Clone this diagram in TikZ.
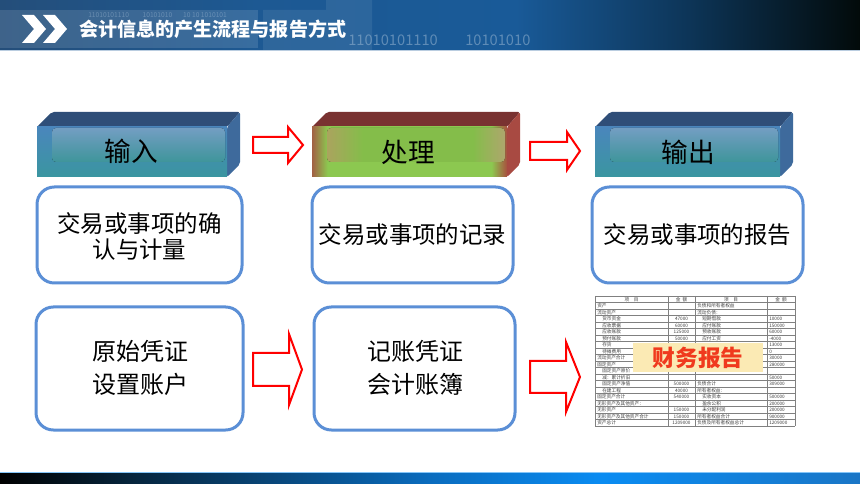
\documentclass[tikz,border=0pt]{standalone}
\usepackage{fontspec}
\setmainfont{Noto Sans CJK SC}
\usetikzlibrary{calc}
\definecolor{boxblue}{HTML}{5B8FD6}
\definecolor{hA}{HTML}{244E7A}
\definecolor{hB}{HTML}{1D5993}
\definecolor{hC}{HTML}{195A98}
\definecolor{hD}{HTML}{0D3558}
\definecolor{hE}{HTML}{020A0A}
\definecolor{fA}{HTML}{000000}
\definecolor{fB}{HTML}{06263F}
\definecolor{fC}{HTML}{0A6CBE}
\definecolor{fD}{HTML}{0A8CF2}
\definecolor{fE}{HTML}{1A76C6}
\definecolor{tgray}{HTML}{404040}
\definecolor{tgrid}{HTML}{808080}
\definecolor{finyellow}{HTML}{FBEAB4}
\definecolor{finred}{HTML}{F03A1E}
\definecolor{cubeTop}{HTML}{2F4E78}
\definecolor{cubeSide}{HTML}{3E6A9C}
\definecolor{redTop}{HTML}{793231}
\definecolor{redSide}{HTML}{A84A42}
\definecolor{frontTop}{HTML}{4A86BC}
\definecolor{frontBot}{HTML}{3A96A0}
\definecolor{innerTop}{HTML}{7FAED6}
\definecolor{innerBot}{HTML}{45A4AA}
\definecolor{gFrontL}{HTML}{A26044}
\definecolor{gFrontR}{HTML}{A8503F}
\definecolor{gFrontM}{HTML}{8CC850}
\definecolor{gInL}{HTML}{BCB468}
\definecolor{gInR}{HTML}{C0B878}
\definecolor{gInM}{HTML}{92D052}
\pgfdeclarehorizontalshading{hdrshade}{100bp}{color(0bp)=(hA); color(25bp)=(hA); color(40bp)=(hB); color(55bp)=(hC); color(65bp)=(hD); color(75bp)=(hE); color(100bp)=(hE)}
\pgfdeclarehorizontalshading{footshade}{100bp}{color(0bp)=(fA); color(25bp)=(fA); color(33bp)=(fB); color(50bp)=(fC); color(60bp)=(fD); color(75bp)=(fE); color(100bp)=(fE)}
\pgfdeclarehorizontalshading{greenfront}{100bp}{color(0bp)=(gFrontL); color(25bp)=(gFrontL); color(29bp)=(gFrontM); color(71bp)=(gFrontM); color(75bp)=(gFrontR); color(100bp)=(gFrontR)}
\pgfdeclarehorizontalshading{greeninner}{100bp}{color(0bp)=(gInL); color(25bp)=(gInL); color(35bp)=(gInM); color(66bp)=(gInM); color(75bp)=(gInR); color(100bp)=(gInR)}
\newcommand\blockarr[5]{%
  \draw[barrow] (#1) ++(0,-#4) -- ++(#2,0) -- ++(0,{-(#5-#4)}) -- ++(#3,#5) -- ++(-#3,#5) -- ++(0,{-(#5-#4)}) -- ++(-#2,0) -- cycle;}
\newcommand\cubebox[6]{% #1 x1, #2 x2, #3 top, #4 side, #5 front style, #6 inner style
  \fill[#3, rounded corners=1.5] (#1,127) -- (#1+15,112) -- (#2+13,112) -- (#2,127) -- cycle;
  \fill[#4, rounded corners=1.5] (#2,127) -- (#2+13,112) -- (#2+13,164) -- (#2,177) -- cycle;
  \fill[#5] (#1,127) rectangle (#2,177);
  \fill[#6, rounded corners=3] (#1+15,128) rectangle (#2-2,162);}
\newcommand\trow[7]{%
  \node[tcell,anchor=west] (tl#1) at (597+#2, {296+6.5*#1+3.4}) {#3};
  \node[tcell] (ta#1) at (681.5, {296+6.5*#1+3.4}) {#4};
  \node[tcell,anchor=west] (tr#1) at (697+#5, {296+6.5*#1+3.4}) {#6};
  \node[tcell,anchor=west] (tb#1) at (769, {296+6.5*#1+3.4}) {#7};}
\begin{document}
\begin{tikzpicture}[x=0.75pt,y=-0.75pt,
  rbox/.style={draw=boxblue, line width=2.25pt, rounded corners=13pt, fill=white, align=center, inner sep=0pt, font=\fontsize{17.6}{20}\selectfont},
  barrow/.style={draw=red, line width=1.5pt, fill=white, line join=miter},
  toplbl/.style={font=\fontsize{20}{24}\selectfont, text=black, inner sep=0pt},
  tcell/.style={font=\fontsize{3.5}{4}\selectfont, text=tgray, inner sep=0pt},
  tline/.style={draw=tgrid, line width=0.35pt}]
\useasboundingbox (0,0) rectangle (860,484);
\fill[white] (0,0) rectangle (860,484);

% ---------- header ----------
\fill[shading=hdrshade] (0,0) rectangle (860,50);
\fill[white, opacity=0.12] (0,10) rectangle (258,48);
\fill[white, opacity=0.08] (263,10) -- (326,10) -- (326,0) -- (372,0) -- (372,50) -- (263,50) -- cycle;
\draw[color=white!70!hC, line width=1.2pt] (0,50.5) -- (860,50.5);
\node[text=white!60!hC, opacity=0.45, font=\fontsize{5}{6}\selectfont, anchor=west, inner sep=0pt] (bin0) at (88,15) {11010101110 \hspace{8pt} 10101010 \hspace{6pt} 10 10 1010101};
\node[text=white!55!hC, opacity=0.55, font=\fontsize{11}{12}\selectfont, anchor=west, inner sep=0pt] (bin1) at (348,40) {11010101110};
\node[text=white!55!hC, opacity=0.55, font=\fontsize{11}{12}\selectfont, anchor=west, inner sep=0pt] (bin2) at (465,40) {10101010};
\fill[white] (22,15) -- (34,15) -- (46,29) -- (34,43) -- (22,43) -- (34,29) -- cycle;
\fill[white] (43,15) -- (55,15) -- (67,29) -- (55,43) -- (43,43) -- (55,29) -- cycle;
\node[text=white, font=\bfseries\fontsize{14.3}{16}\selectfont, anchor=west, inner sep=0pt] (title) at (79,29) {会计信息的产生流程与报告方式};

% ---------- footer ----------
\fill[shading=footshade] (0,472) rectangle (860,484);
\draw[color=fD!50!white, line width=0.6pt] (0,472.3) -- (860,472.3);

% ---------- top 3D boxes ----------
\cubebox{37}{227}{cubeTop}{cubeSide}{top color=frontTop, bottom color=frontBot}{top color=innerTop, bottom color=innerBot, opacity=0.9}
\cubebox{312}{507}{redTop}{redSide}{shading=greenfront}{shading=greeninner, opacity=0.9}
\cubebox{595}{780}{cubeTop}{cubeSide}{top color=frontTop, bottom color=frontBot}{top color=innerTop, bottom color=innerBot, opacity=0.9}
\node[toplbl] (in) at (131,151) {输入};
\node[toplbl] (proc) at (408,152) {处理};
\node[toplbl] (out) at (688,152) {输出};

% ---------- top arrows ----------
\coordinate (a1) at (253,145);
\coordinate (a2) at (530,151);
\blockarr{a1}{35}{15}{8}{18}
\blockarr{a2}{37}{13}{9}{19}

% ---------- middle row ----------
\node[rbox, minimum width={205*0.75pt}, minimum height={96*0.75pt}] (m1) at (139.5,235) {};
\node[font=\fontsize{17.6}{20.2}\selectfont, align=center, inner sep=0pt] (m1t) at (139.5,236.5) {交易或事项的确\\认与计量};
\node[rbox, minimum width={201*0.75pt}, minimum height={96*0.75pt}] (m2) at (412.5,235) {交易或事项的记录};
\node[rbox, minimum width={211*0.75pt}, minimum height={96*0.75pt}] (m3) at (697.5,235) {交易或事项的报告};

% ---------- bottom row ----------
\node[rbox, minimum width={207*0.75pt}, minimum height={123*0.75pt}] (b1) at (139.5,368.5) {};
\node[font=\fontsize{18}{24.8}\selectfont, align=center, inner sep=0pt] (b1t) at (140,367.5) {原始凭证\\设置账户};
\node[rbox, minimum width={201*0.75pt}, minimum height={123*0.75pt}] (b2) at (414.5,368.5) {};
\node[font=\fontsize{18}{24.8}\selectfont, align=center, inner sep=0pt] (b2t) at (415,367.5) {记账凭证\\会计账簿};

\coordinate (a3) at (253,369.5);
\coordinate (a4) at (530,377);
\blockarr{a3}{36}{13}{16.5}{35.5}
\blockarr{a4}{36}{14}{16}{35}

% ---------- balance sheet ----------
\fill[white] (595,296) rectangle (795,426);
\foreach \i in {0,...,20} { \draw[tline] (595,{296+6.5*\i}) -- (795,{296+6.5*\i}); }
\foreach \xx in {595,668,695,767,795} { \draw[tline] (\xx,296) -- (\xx,426); }
\node[tcell] (h1) at (631.5,299.4) {项\quad 目};
\node[tcell] (h2) at (681.5,299.4) {金\ \ 额};
\node[tcell] (h3) at (731,299.4) {项\quad 目};
\node[tcell] (h4) at (781,299.4) {金\ \ 额};
\trow{1}{0}{资产}{}{0}{负债和所有者权益}{}
\trow{2}{0}{流动资产}{}{0}{流动负债：}{}
\trow{3}{5}{货币资金}{47000}{5}{短期借款}{10000}
\trow{4}{5}{应收票据}{60000}{5}{应付账款}{150000}
\trow{5}{5}{应收账款}{125000}{5}{预收账款}{60000}
\trow{6}{5}{预付账款}{50000}{5}{应付工资}{-4000}
\trow{7}{5}{存货}{}{5}{}{13000}
\trow{8}{5}{待摊费用}{}{5}{}{0}
\trow{9}{0}{流动资产合计}{}{0}{}{30000}
\trow{10}{0}{固定资产}{}{0}{}{280000}
\trow{11}{5}{固定资产原价}{}{0}{}{}
\trow{12}{5}{减：累计折旧}{}{0}{}{50000}
\trow{13}{5}{固定资产净值}{500000}{0}{负债合计}{309000}
\trow{14}{5}{在建工程}{40000}{0}{所有者权益：}{}
\trow{15}{0}{固定资产合计}{540000}{5}{实收资本}{500000}
\trow{16}{0}{无形资产及其他资产：}{}{5}{盈余公积}{200000}
\trow{17}{0}{无形资产}{150000}{5}{未分配利润}{200000}
\trow{18}{0}{无形资产及其他资产合计}{150000}{0}{所有者权益合计}{900000}
\trow{19}{0}{资产总计}{1209000}{0}{负债及所有者权益总计}{1209000}
\node[fill=finyellow, minimum width={130*0.75pt}, minimum height={29*0.75pt}, inner sep=0pt, text=finred, font=\bfseries\fontsize{17}{20}\selectfont] (fin) at (698,357.5) {财务报告};
\end{tikzpicture}
\end{document}
